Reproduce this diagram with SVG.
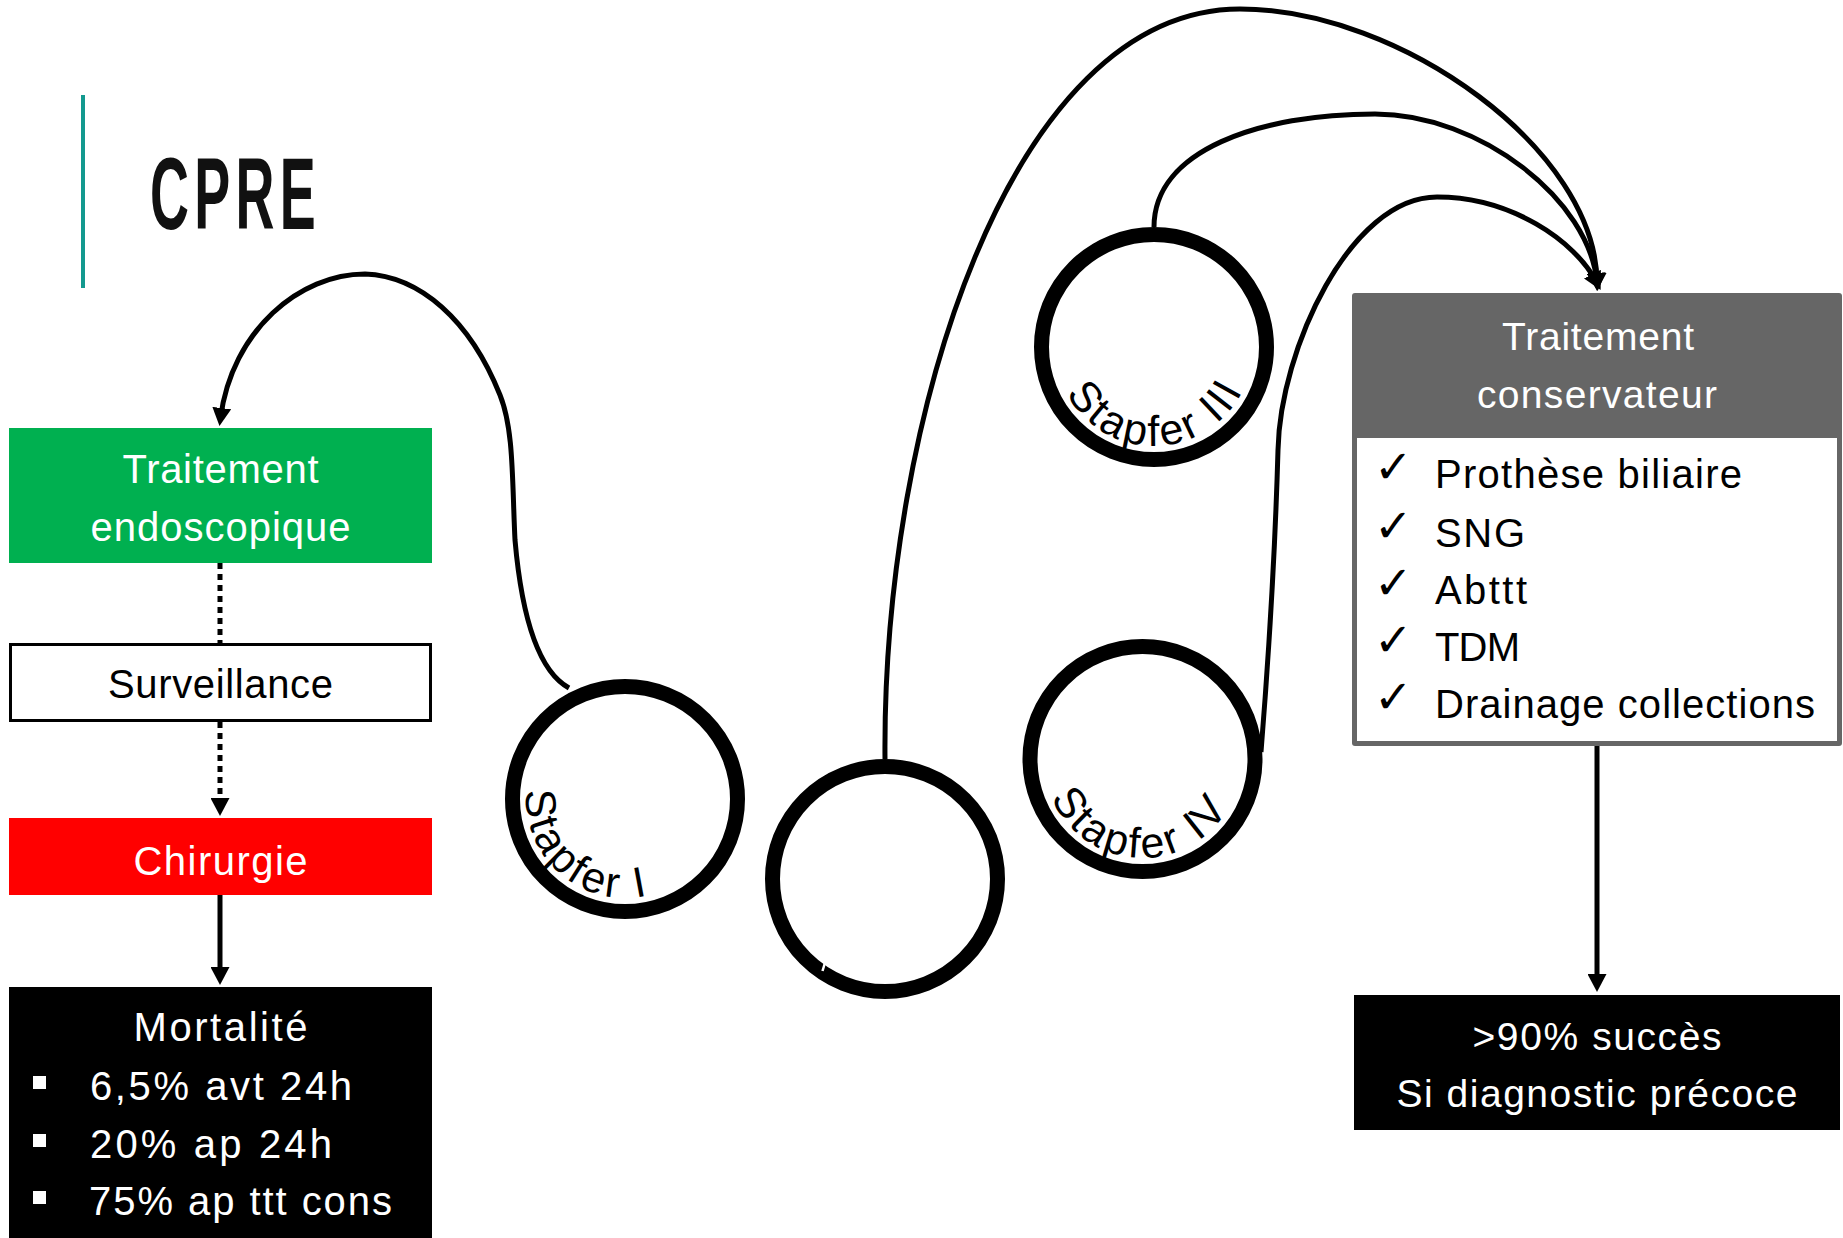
<svg xmlns="http://www.w3.org/2000/svg" width="1843" height="1238" viewBox="0 0 1843 1238">
  <style>
    .t { font-family: "Liberation Sans", Arial, sans-serif; font-size: 40px; }
    .hd { font-size: 39px; }
    .w { fill: #ffffff; }
    .k { fill: #000000; }
    .mid { text-anchor: middle; }
    .conn { fill: none; stroke: #000000; stroke-width: 5; }
    .dot { stroke-dasharray: 6 5; }
    .ring { fill: #ffffff; stroke: #000000; stroke-width: 15; }
    .arc { font-family: "Liberation Sans", Arial, sans-serif; font-size: 43px; letter-spacing: 3px; fill: #000000; }
    .chk { font-family: "DejaVu Sans", sans-serif; font-size: 46px; font-weight: bold; fill: #000000; }
  </style>
  <defs>
    <marker id="ah" viewBox="0 0 18 19" refX="10" refY="9.5" markerWidth="18" markerHeight="19" markerUnits="userSpaceOnUse" orient="auto">
      <path d="M0,0 L18,9.5 L0,19 z" fill="#000000"/>
    </marker>
    <!-- baselines for the ring labels (counter-clockwise, inside the ring) -->
    <path id="arcI" d="M526.38,790.37 A99,99 0 1 0 583.16,709.28"/>
    <path id="arcIII" d="M1066.59,393.48 A99,99 0 1 0 1070.05,294.54"/>
    <path id="arcIV" d="M1051.37,797.68 A99,99 0 1 0 1063.44,699.42"/>
  </defs>

  <rect width="1843" height="1238" fill="#ffffff"/>

  <!-- title -->
  <g id="title">
    <rect x="81" y="95" width="4" height="193" fill="#13998f"/>
    <text x="150" y="229" font-family="'Liberation Sans', Arial, sans-serif" font-weight="bold" font-size="102" letter-spacing="10" fill="#111111" textLength="171" lengthAdjust="spacingAndGlyphs">CPRE</text>
  </g>

  <!-- connectors -->
  <g id="connectors">
    <line class="conn dot" x1="220" y1="563" x2="220" y2="643"/>
    <line class="conn dot" x1="220" y1="722" x2="220" y2="808" marker-end="url(#ah)"/>
    <line class="conn" x1="220" y1="895" x2="220" y2="977" marker-end="url(#ah)"/>
    <line class="conn" x1="1597" y1="746" x2="1597" y2="984" marker-end="url(#ah)"/>
    <!-- Stapfer I to endoscopic treatment -->
    <path class="conn" d="M569,688 C540,672 522,620 515,540 C512,480 514,430 500,395 C470,320 420,276 365,274 C300,274 232,330 220.5,418" marker-end="url(#ah)"/>
    <!-- Stapfer II, III, IV to conservative treatment -->
    <path class="conn" d="M885,759 C882,420 1010,9 1240,9 C1400,9 1597,150 1597,283" marker-end="url(#ah)"/>
    <path class="conn" d="M1154,227 C1154,150 1260,114 1375,114 C1480,114 1590,200 1597,283" marker-end="url(#ah)"/>
    <path class="conn" d="M1261,752 C1270,640 1276,520 1278,450 C1280,350 1350,197 1437,197 C1510,197 1575,240 1597,283" marker-end="url(#ah)"/>
  </g>

  <!-- left column -->
  <g id="endoscopique">
    <rect x="9" y="428" width="423" height="135" fill="#00b050"/>
    <text class="t w mid" x="220.5" y="483" textLength="196" lengthAdjust="spacing">Traitement</text>
    <text class="t w mid" x="220.5" y="541" textLength="260" lengthAdjust="spacing">endoscopique</text>
  </g>
  <g id="surveillance">
    <rect x="10.5" y="644.5" width="420" height="76" fill="#ffffff" stroke="#000000" stroke-width="3"/>
    <text class="t k mid" x="220.5" y="698" textLength="225" lengthAdjust="spacing">Surveillance</text>
  </g>
  <g id="chirurgie">
    <rect x="9" y="818" width="423" height="77" fill="#ff0000"/>
    <text class="t w mid" x="220.5" y="875" textLength="174" lengthAdjust="spacing">Chirurgie</text>
  </g>
  <g id="mortalite">
    <rect x="9" y="987" width="423" height="251" fill="#000000"/>
    <text class="t w mid" x="220.5" y="1041" textLength="174" lengthAdjust="spacing">Mortalité</text>
    <rect x="33" y="1076" width="13" height="13" fill="#ffffff"/>
    <rect x="33" y="1134" width="13" height="13" fill="#ffffff"/>
    <rect x="33" y="1191" width="13" height="13" fill="#ffffff"/>
    <text class="t w" x="90" y="1100" textLength="262" lengthAdjust="spacing">6,5% avt 24h</text>
    <text class="t w" x="90" y="1158" textLength="242" lengthAdjust="spacing">20% ap 24h</text>
    <text class="t w" x="89" y="1215" textLength="303" lengthAdjust="spacing">75% ap ttt cons</text>
  </g>

  <!-- Stapfer rings -->
  <g id="stapfer-1">
    <circle class="ring" cx="625" cy="799" r="112.5"/>
    <text class="arc"><textPath href="#arcI">Stapfer I</textPath></text>
  </g>
  <g id="stapfer-2">
    <circle class="ring" cx="885" cy="879" r="112.5"/>
    <line x1="825.5" y1="961" x2="822.5" y2="971" stroke="#ffffff" stroke-width="2.5"/>
  </g>
  <g id="stapfer-3">
    <circle class="ring" cx="1154" cy="347" r="112.5"/>
    <text class="arc"><textPath href="#arcIII">Stapfer III</textPath></text>
  </g>
  <g id="stapfer-4">
    <circle class="ring" cx="1142.5" cy="759" r="112.5"/>
    <text class="arc"><textPath href="#arcIV">Stapfer IV</textPath></text>
  </g>

  <!-- right column -->
  <g id="conservateur">
    <rect x="1352" y="293" width="490" height="453" rx="3" fill="#666666"/>
    <rect x="1357" y="438" width="480" height="303" fill="#ffffff"/>
    <text class="t hd w mid" x="1598" y="350" textLength="192" lengthAdjust="spacing">Traitement</text>
    <text class="t hd w mid" x="1597" y="408" textLength="240" lengthAdjust="spacing">conservateur</text>
    <text class="chk" x="1374" y="483">✓</text>
    <text class="chk" x="1374" y="542">✓</text>
    <text class="chk" x="1374" y="599">✓</text>
    <text class="chk" x="1374" y="656">✓</text>
    <text class="chk" x="1374" y="713">✓</text>
    <text class="t k" x="1435" y="488" textLength="307" lengthAdjust="spacing">Prothèse biliaire</text>
    <text class="t k" x="1435" y="547" textLength="90" lengthAdjust="spacing">SNG</text>
    <text class="t k" x="1435" y="604" textLength="92" lengthAdjust="spacing">Abttt</text>
    <text class="t k" x="1435" y="661" textLength="85" lengthAdjust="spacing">TDM</text>
    <text class="t k" x="1435" y="718" textLength="380" lengthAdjust="spacing">Drainage collections</text>
  </g>
  <g id="succes">
    <rect x="1354" y="995" width="486" height="135" fill="#000000"/>
    <text class="t hd w mid" x="1597" y="1050" textLength="249" lengthAdjust="spacing">&gt;90% succès</text>
    <text class="t hd w mid" x="1597" y="1107" textLength="401" lengthAdjust="spacing">Si diagnostic précoce</text>
  </g>
</svg>
